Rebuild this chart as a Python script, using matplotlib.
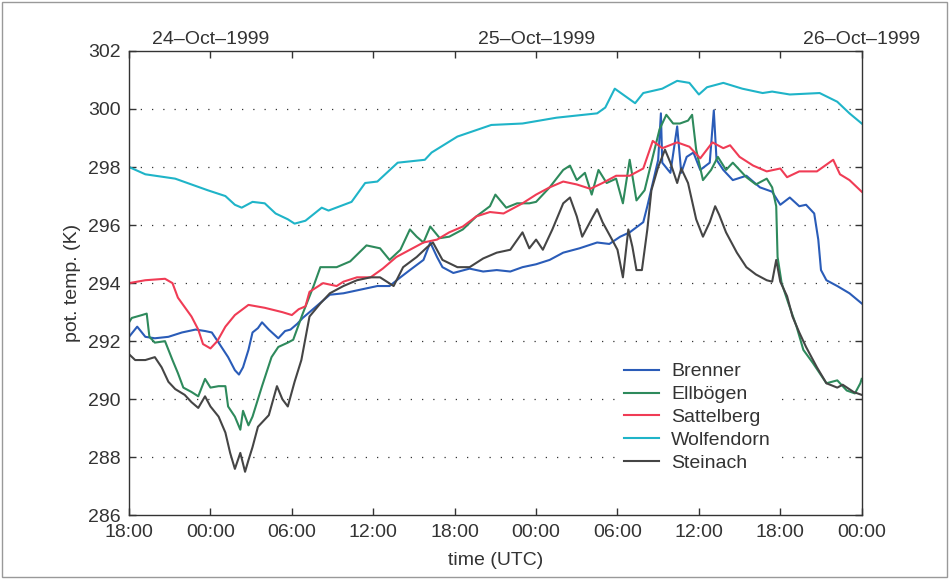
import matplotlib
matplotlib.use('Agg')
import matplotlib.pyplot as plt
from matplotlib.patches import Rectangle
import matplotlib.transforms as mtransforms

# hours after 23-Oct-1999 18:00 UTC, potential temperature in K
brenner_t = [0, 0.6, 1.2, 1.9, 2.9, 3.9, 4.9, 5.6, 6.1, 6.6, 7.3, 7.8, 8.1, 8.4, 8.8, 9.1, 9.5, 9.8,
             10.3, 11, 11.5, 11.9, 12.4, 12.8, 13.8, 14.8, 15.8, 16.8, 18.3, 19.2, 20, 20.7, 21.7,
             22.2, 22.7, 23.1, 23.9, 25.1, 26.1, 27.1, 28.1, 29, 30, 31, 32, 33.2, 34.5, 35.4,
             36.2, 36.9, 37.9, 38.2, 38.6, 39, 39.2, 39.3, 39.9, 40.4, 40.7, 41.1, 41.6, 42.1,
             42.8, 43.1, 43.3, 43.8, 44.5, 45.5, 46.5, 47.4, 48, 48.7, 49.4, 49.9, 50.5, 50.8,
             51, 51.4, 52.2, 53.1, 54]
brenner_v = [292.15, 292.5, 292.15, 292.1, 292.15, 292.3, 292.4, 292.35, 292.3, 291.95, 291.45,
             291.0, 290.85, 291.1, 291.7, 292.3, 292.45, 292.65, 292.4, 292.1, 292.35, 292.4,
             292.6, 292.8, 293.2, 293.6, 293.65, 293.75, 293.9, 293.9, 294.2, 294.45, 294.8,
             295.4, 294.9, 294.55, 294.35, 294.5, 294.4, 294.45, 294.4, 294.55, 294.65, 294.8,
             295.05, 295.2, 295.4, 295.35, 295.6, 295.75, 296.1, 296.65, 297.45, 298.25, 299.85,
             298.15, 297.8, 299.4, 297.8, 298.35, 298.5, 297.9, 298.15, 299.95, 298.25, 297.9,
             297.55, 297.7, 297.3, 297.15, 296.7, 296.95, 296.65, 296.7, 296.4, 295.5, 294.45,
             294.1, 293.9, 293.65, 293.3]

ellbogen_t = [0, 0.2, 0.95, 1.3, 1.5, 1.9, 2.65, 3.2, 3.6, 4, 4.6, 5.1, 5.6, 6, 6.6, 7.1, 7.3,
              7.8, 8.2, 8.4, 8.8, 9.1, 9.8, 10.5, 11, 11.7, 12.1, 12.8, 13.6, 14.1, 15.3, 16.3,
              17.5, 18.5, 19.2, 20, 20.7, 21.2, 21.7, 22.2, 22.9, 23.6, 24.6, 25.6, 26.6, 27,
              27.8, 28.6, 29.5, 30, 31, 32, 32.5, 33, 33.6, 34.1, 34.6, 35.2, 35.9, 36.4, 36.9,
              37.4, 38, 38.6, 39.1, 39.6, 40.1, 40.6, 41.2, 41.5, 41.8, 42.3, 42.9, 43.4, 44,
              44.5, 45.5, 46.2, 47, 47.4, 47.7, 47.8, 48.1, 48.6, 49.2, 49.7, 50.4, 51.4, 52.2,
              52.9, 53.5, 53.9, 54]
ellbogen_v = [292.65, 292.8, 292.9, 292.95, 292.15, 291.95, 292.0, 291.35, 290.9, 290.4, 290.25,
              290.1, 290.7, 290.4, 290.45, 290.45, 289.75, 289.4, 288.95, 289.6, 289.1, 289.4,
              290.45, 291.45, 291.8, 291.95, 292.05, 292.95, 293.9, 294.55, 294.55, 294.75, 295.3,
              295.2, 294.8, 295.15, 295.85, 295.6, 295.4, 295.95, 295.55, 295.6, 295.85, 296.3,
              296.65, 297.05, 296.6, 296.75, 296.75, 296.8, 297.3, 297.9, 298.05, 297.55, 297.8,
              297.05, 297.9, 297.45, 297.6, 296.75, 298.25, 296.85, 297.2, 298.35, 299.3, 299.8,
              299.5, 299.5, 299.6, 299.8, 298.6, 297.55, 297.9, 298.35, 297.9, 298.15, 297.65,
              297.4, 297.6, 297.3, 296.65, 294.9, 294.0, 293.3, 292.5, 291.7, 291.25, 290.55,
              290.65, 290.3, 290.2, 290.55, 290.7]

sattel_t = [0, 1.2, 2.65, 3.2, 3.6, 4.6, 5.1, 5.45, 6, 6.5, 7.1, 7.8, 8.8, 10, 11.3, 12, 12.5,
            13, 13.3, 14.3, 15.3, 15.8, 16.8, 17.8, 18.7, 19.7, 20.7, 21.7, 22.7, 23.6, 24.6,
            25.6, 26.6, 27.6, 29, 30, 31, 32, 33, 34, 34.9, 35.9, 36.9, 37.9, 38.6, 39.3, 40.4,
            41.3, 42.1, 43, 43.8, 44.3, 45, 46, 47, 48, 48.5, 49.4, 50.7, 51.9, 52.4, 53.1, 54]
sattel_v = [294.0, 294.1, 294.15, 294.0, 293.5, 292.85, 292.4, 291.9, 291.75, 292.0, 292.5,
            292.9, 293.25, 293.15, 293.0, 292.9, 293.1, 293.2, 293.7, 294.0, 293.9, 294.05,
            294.2, 294.2, 294.5, 294.9, 295.15, 295.4, 295.5, 295.75, 295.95, 296.3, 296.45,
            296.4, 296.75, 297.05, 297.3, 297.5, 297.4, 297.25, 297.45, 297.7, 297.7, 297.95,
            298.9, 298.65, 298.85, 298.7, 298.3, 298.85, 298.65, 298.75, 298.35, 298.05, 297.85,
            297.95, 297.65, 297.85, 297.85, 298.25, 297.75, 297.55, 297.15]

wolf_t = [0, 1.2, 3.4, 5.8, 7.1, 7.8, 8.3, 9.1, 10, 10.8, 11.7, 12.2, 13, 14.2, 14.7, 16.4,
          17.4, 18.3, 19.8, 21.8, 22.3, 24.2, 26.7, 29, 31.5, 34.5, 35.1, 35.8, 36.7, 37.3,
          37.9, 39.3, 40.4, 41.3, 42, 42.6, 43.8, 45.2, 46.7, 47.4, 48.7, 50.9, 52.2, 53.1, 54]
wolf_v = [298.0, 297.75, 297.6, 297.2, 297.0, 296.7, 296.6, 296.8, 296.75, 296.4, 296.2, 296.05,
          296.15, 296.6, 296.5, 296.8, 297.45, 297.5, 298.15, 298.25, 298.5, 299.05, 299.45,
          299.5, 299.7, 299.85, 300.05, 300.7, 300.4, 300.2, 300.55, 300.7, 300.97, 300.9,
          300.5, 300.75, 300.9, 300.7, 300.55, 300.6, 300.5, 300.55, 300.25, 299.85, 299.5]

stein_t = [0, 0.45, 1.2, 1.9, 2.4, 2.9, 3.4, 4.1, 4.6, 5.1, 5.6, 6, 6.6, 7.1, 7.45, 7.8, 8.2,
           8.55, 8.8, 9.1, 9.5, 10.3, 10.9, 11.3, 11.7, 12.2, 12.7, 13.3, 14.1, 14.8, 15.8,
           16.8, 17.8, 18.5, 19.5, 20.2, 21.2, 22, 22.4, 23.1, 24.2, 25.1, 26.1, 27.1, 28.1,
           29, 29.5, 30, 30.5, 31.2, 32, 32.5, 33, 33.4, 34.2, 34.5, 34.9, 35.6, 36, 36.4, 36.8,
           37.1, 37.4, 37.8, 38.2, 38.5, 39, 39.5, 39.9, 40.4, 40.7, 41.2, 41.8, 42.3, 42.8,
           43.2, 43.5, 44, 44.8, 45.5, 46.2, 47, 47.4, 47.7, 48, 48.5, 48.9, 49.4, 49.9, 50.7,
           51.4, 52.2, 52.6, 53.4, 54]
stein_v = [291.55, 291.35, 291.35, 291.45, 291.1, 290.6, 290.35, 290.15, 289.9, 289.7, 290.1,
           289.75, 289.4, 288.85, 288.15, 287.6, 288.15, 287.5, 287.9, 288.35, 289.05, 289.45,
           290.45, 290.0, 289.75, 290.6, 291.35, 292.85, 293.3, 293.65, 293.9, 294.1, 294.2,
           294.2, 293.9, 294.55, 294.9, 295.25, 295.4, 294.8, 294.55, 294.55, 294.85, 295.05,
           295.15, 295.75, 295.2, 295.5, 295.15, 295.85, 296.75, 296.95, 296.3, 295.6, 296.3,
           296.55, 296.1, 295.5, 295.15, 294.2, 295.85, 295.25, 294.45, 294.45, 295.85, 297.2,
           298.0, 298.6, 298.15, 297.45, 297.95, 297.45, 296.2, 295.6, 296.1, 296.65, 296.35,
           295.75, 295.05, 294.55, 294.3, 294.1, 294.05, 294.8, 294.05, 293.55, 292.85, 292.3,
           291.8, 291.1, 290.55, 290.4, 290.5, 290.25, 290.15]

names = ['Brenner', 'Ellbögen', 'Sattelberg', 'Wolfendorn', 'Steinach']
colors = ['#2a5cb8', '#2e8a5c', '#f03c55', '#1fb4c8', '#454545']

tick_hours = [0, 6, 12, 18, 24, 30, 36, 42, 48, 54]
tick_labels = ['18:00', '00:00', '06:00', '12:00', '18:00', '00:00', '06:00', '12:00', '18:00', '00:00']
date_hours = [6, 30, 54]
date_labels = ['24\u2013Oct\u20131999', '25\u2013Oct\u20131999', '26\u2013Oct\u20131999']

plt.rcParams['font.family'] = ['Liberation Sans', 'DejaVu Sans']
plt.rcParams['font.size'] = 14

fig = plt.figure(figsize=(9.49, 5.79), dpi=100)
ax = fig.add_axes([0.136, 0.110, 0.772, 0.802])

series = [(brenner_t, brenner_v), (ellbogen_t, ellbogen_v), (sattel_t, sattel_v),
          (wolf_t, wolf_v), (stein_t, stein_v)]
for (t, v), name, c in zip(series, names, colors):
    ax.plot(t, v, color=c, lw=1.5, label=name)

ax.set_xlim(0, 54)
ax.set_ylim(286, 302)
ax.set_yticks(range(286, 303, 2))
ax.set_xticks(tick_hours)
ax.set_xticklabels(tick_labels)
for y in range(288, 301, 2):
    ax.axhline(y, color='#333333', lw=0.9, ls=(0, (1, 8)), zorder=0)
ax.tick_params(direction='in', top=True, right=True, length=5, width=1, colors='#333333',
               labelcolor='#333333', labelsize=14)
ax.tick_params(axis='x', pad=6)
ax.tick_params(axis='y', pad=6)
for s in ax.spines.values():
    s.set_color('#333333')
    s.set_linewidth(1)
ax.set_xlabel('time (UTC)', color='#333333', fontsize=14, labelpad=8)
ax.set_ylabel('pot. temp. (K)', color='#333333', fontsize=14, labelpad=5)

trans = mtransforms.blended_transform_factory(ax.transData, ax.transAxes)
for h, lab in zip(date_hours, date_labels):
    ax.text(h, 1.006, lab, transform=trans, ha='center', va='bottom', fontsize=14, color='#333333')

leg = ax.legend(loc='lower left', bbox_to_anchor=(0.655, 0.06), frameon=True, fancybox=False,
                edgecolor='none', facecolor='white', framealpha=1, handlelength=1.8,
                handletextpad=0.6, labelspacing=0.27, fontsize=14, borderpad=0.3)
for txt in leg.get_texts():
    txt.set_color('#333333')

fig.patches.append(Rectangle((0.002, 0.003), 0.996, 0.994, transform=fig.transFigure,
                             fill=False, edgecolor='#999999', lw=1))

fig.savefig('out.png', dpi=100)
